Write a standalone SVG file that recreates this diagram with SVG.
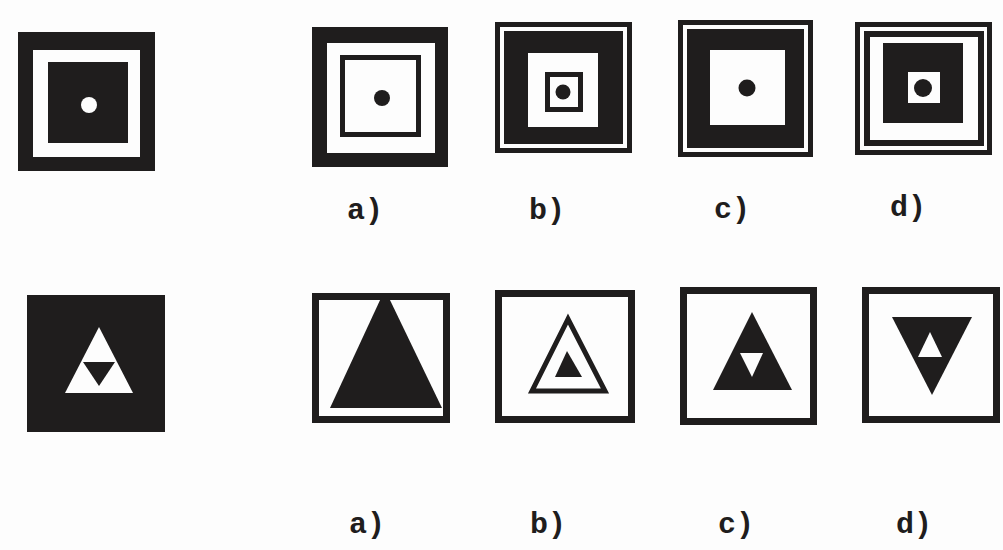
<svg xmlns="http://www.w3.org/2000/svg" width="1003" height="550" viewBox="0 0 1003 550">
<style>
.k{fill:#1f1d1d}
.w{fill:#fdfdfd}
.ko{fill:none;stroke:#1f1d1d;stroke-width:7}
.kt{fill:none;stroke:#1f1d1d;stroke-width:5}
.lbl{font-family:"Liberation Mono","Courier New",monospace;font-size:30px;font-weight:bold;fill:#1f1d1d}
</style>
<rect width="1003" height="550" fill="#fdfdfd"/>
<g id="top-question">
<rect class="k" x="18" y="32" width="137" height="139"/>
<rect class="w" x="33" y="50" width="107" height="107"/>
<rect class="k" x="48" y="62" width="80" height="81"/>
<circle class="w" cx="89" cy="105" r="8"/>
</g>
<g id="top-a">
<rect class="k" x="312" y="27" width="136" height="140"/>
<rect class="w" x="327" y="43" width="108" height="110"/>
<rect class="kt" x="342.5" y="57.5" width="76" height="77"/>
<circle class="k" cx="382" cy="98" r="8"/>
</g>
<g id="top-b">
<rect class="k" x="495" y="22" width="137" height="131"/>
<rect class="w" x="500" y="27" width="127" height="121"/>
<rect class="k" x="504" y="31" width="119" height="113"/>
<rect class="w" x="528" y="53" width="70" height="74"/>
<rect class="kt" x="547.5" y="74.5" width="33" height="35"/>
<circle class="k" cx="563" cy="92" r="7.5"/>
</g>
<g id="top-c">
<rect class="k" x="678" y="20" width="135" height="137"/>
<rect class="w" x="683" y="25" width="125" height="127"/>
<rect class="k" x="687" y="29" width="117" height="119"/>
<rect class="w" x="710" y="50" width="75" height="75"/>
<circle class="k" cx="747" cy="88" r="8.5"/>
</g>
<g id="top-d">
<rect class="k" x="855" y="22" width="137" height="133"/>
<rect class="w" x="860" y="27" width="127" height="123"/>
<rect class="k" x="864" y="31" width="120" height="115"/>
<rect class="w" x="870" y="37" width="108" height="103"/>
<rect class="k" x="883" y="43" width="80" height="80"/>
<rect class="w" x="908" y="72" width="32" height="31"/>
<circle class="k" cx="923" cy="88" r="9"/>
</g>
<g id="bottom-question">
<rect class="k" x="27" y="295" width="138" height="137"/>
<polygon class="w" points="99,327 65,393 133,393"/>
<polygon class="k" points="83,362 115,362 99,386"/>
</g>
<g id="bottom-a">
<rect class="ko" x="315.5" y="296.5" width="131" height="123"/>
<polygon class="k" points="381,298 389,298 442,408 330,408"/>
</g>
<g id="bottom-b">
<rect class="ko" x="498.5" y="293.5" width="133" height="126"/>
<polygon class="kt" points="568,319 532,391 605,391"/>
<polygon class="k" points="567,351 555,377 582,377"/>
</g>
<g id="bottom-c">
<rect class="ko" x="683.5" y="290.5" width="130" height="131"/>
<polygon class="k" points="752,312 713,390 792,390"/>
<polygon class="w" points="740,353 763,353 752,377"/>
</g>
<g id="bottom-d">
<rect class="ko" x="865.5" y="290.5" width="131" height="129"/>
<polygon class="k" points="892,317 972,317 932,395"/>
<polygon class="w" points="930,332 918,357 942,357"/>
</g>
<g id="labels">
<text class="lbl" x="347" y="219">a)</text>
<text class="lbl" x="529" y="219">b)</text>
<text class="lbl" x="714" y="218">c)</text>
<text class="lbl" x="890" y="216">d)</text>
<text class="lbl" x="349" y="533">a)</text>
<text class="lbl" x="530" y="533">b)</text>
<text class="lbl" x="718" y="533">c)</text>
<text class="lbl" x="896" y="533">d)</text>
</g>
</svg>
